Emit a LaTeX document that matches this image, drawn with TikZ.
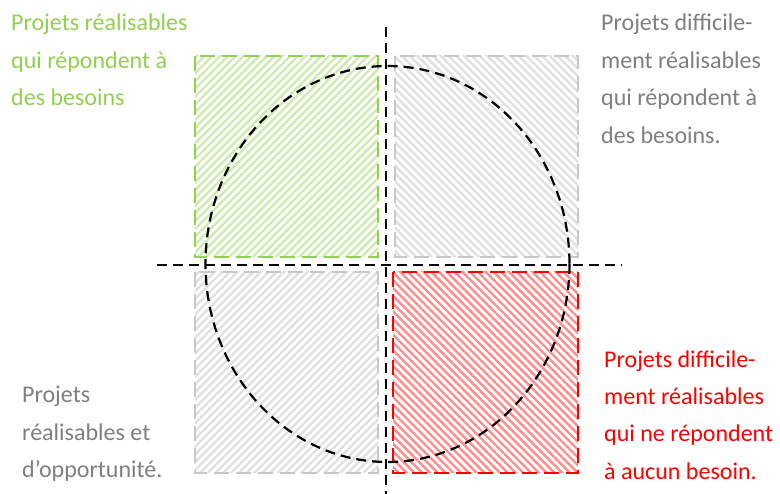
\documentclass[tikz,border=0pt]{standalone}
\usepackage{fontspec}
\setmainfont{Carlito}
\usetikzlibrary{patterns.meta}
\definecolor{xgreen}{HTML}{92D050}
\definecolor{xred}{HTML}{FF0000}
\definecolor{xgray}{HTML}{7F7F7F}
\definecolor{boxgray}{HTML}{C8C8C8}
\definecolor{hatchgray}{HTML}{E0E0E0}
\begin{document}
\begin{tikzpicture}[x=1pt,y=-1pt,
  quad/.style={draw, line width=2.5pt, dash pattern=on 15pt off 7pt, inner sep=0pt, outer sep=0pt},
  ne/.style={pattern={Lines[angle=45,distance=5.5pt,line width=2.4pt]}},
  nw/.style={pattern={Lines[angle=-45,distance=5.5pt,line width=2.4pt]}},
  axis/.style={draw=black, line width=2.2pt, dash pattern=on 10pt off 6pt},
  lbl/.style={anchor=base west, align=left, inner sep=0pt, font=\fontsize{24}{37.5}\selectfont}]
\useasboundingbox (0,0) rectangle (780,494);
% quadrant boxes
\path[quad, ne, draw=xgreen, pattern color=xgreen!45] (195,56) rectangle (378,257);
\node[minimum width=183pt, minimum height=201pt, inner sep=0pt] (qtl) at (286.5,156.5) {};
\path[quad, nw, draw=boxgray, pattern color=hatchgray] (395,56) rectangle (578,257);
\node[minimum width=183pt, minimum height=201pt, inner sep=0pt] (qtr) at (486.5,156.5) {};
\path[quad, ne, draw=boxgray, pattern color=hatchgray] (195,272) rectangle (378,473);
\node[minimum width=183pt, minimum height=201pt, inner sep=0pt] (qbl) at (286.5,372.5) {};
\path[quad, nw, draw=xred, pattern color=xred!45] (393,272) rectangle (578,473);
\node[minimum width=185pt, minimum height=201pt, inner sep=0pt] (qbr) at (485.5,372.5) {};
% axes
\coordinate (vtop) at (386,27);
\coordinate (vbot) at (386,494);
\coordinate (hl) at (157,265);
\coordinate (hr) at (622,265);
\coordinate (ctr) at (387.5,264);
\draw[axis] (vtop) -- (vbot);
\draw[axis] (hl) -- (hr);
\draw[axis] (ctr) ellipse [x radius=182, y radius=198];
% labels (anchored at the baseline of the last line)
\node[lbl, text=xgreen] (ltl) at (11,106) {Projets réalisables\\qui répondent à\\des besoins};
\node[lbl, text=xgray] (ltr) at (601,143.5) {Projets difficile-\\ment réalisables\\qui répondent à\\des besoins.};
\node[lbl, text=xgray] (lbl) at (22,478) {Projets\\réalisables et\\d’opportunité.};
\node[lbl, text=xred] (lbr) at (604,479.5) {Projets difficile-\\ment réalisables\\qui ne répondent\\à aucun besoin.};
\end{tikzpicture}
\end{document}
